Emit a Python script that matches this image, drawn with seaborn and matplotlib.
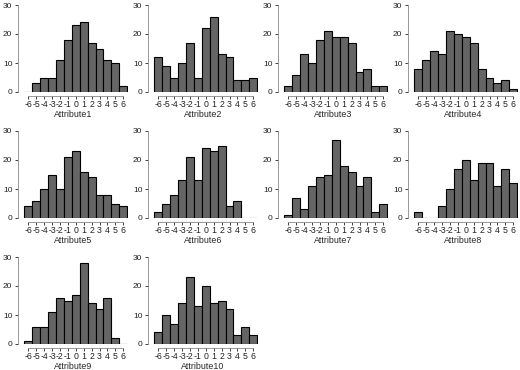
import numpy as np
import pandas as pd
import matplotlib
matplotlib.use("Agg")
import matplotlib.pyplot as plt
import seaborn as sns

# bin centres and counts
bins = list(range(-6, 7))
tick_labels = [str(b) for b in bins]
attr_names = ["Attribute1", "Attribute2", "Attribute3", "Attribute4", "Attribute5",
              "Attribute6", "Attribute7", "Attribute8", "Attribute9", "Attribute10"]

attribute1 = [0, 3, 5, 5, 11, 18, 23, 24, 17, 15, 11, 10, 2]
attribute2 = [12, 9, 5, 10, 17, 5, 22, 26, 13, 12, 4, 4, 5]
attribute3 = [2, 6, 13, 10, 18, 21, 19, 19, 17, 7, 8, 2, 2]
attribute4 = [8, 11, 14, 13, 21, 20, 19, 17, 8, 5, 3, 4, 1]
attribute5 = [4, 6, 10, 15, 10, 21, 23, 16, 14, 8, 8, 5, 4]
attribute6 = [2, 5, 8, 13, 21, 13, 24, 23, 25, 4, 6, 0, 0]
attribute7 = [1, 7, 3, 11, 14, 15, 27, 18, 16, 11, 14, 2, 5]
attribute8 = [2, 0, 0, 4, 10, 17, 20, 13, 19, 19, 11, 17, 12]
attribute9 = [1, 6, 6, 11, 16, 15, 17, 28, 14, 12, 16, 2, 0]
attribute10 = [4, 10, 7, 14, 23, 13, 20, 14, 15, 12, 3, 6, 3]

counts = [attribute1, attribute2, attribute3, attribute4, attribute5,
          attribute6, attribute7, attribute8, attribute9, attribute10]
y_ticks = [0, 10, 20, 30]

sns.set_style("ticks")
plt.rcParams["font.family"] = ["Liberation Sans", "DejaVu Sans"]

W, H = 520, 370
fig = plt.figure(figsize=(W / 100, H / 100), dpi=100)

row_bottom = [92, 218, 344]   # pixel row of y=0
ax_h = 87
ax_w = 110

for i, (name, cnt) in enumerate(zip(attr_names, counts)):
    r, c = divmod(i, 4)
    left = 18 + 130 * c
    ax = fig.add_axes([left / W, (H - row_bottom[r]) / H, ax_w / W, ax_h / H])
    df = pd.DataFrame({"value": bins, "count": cnt})
    sns.histplot(data=df, x="value", weights="count", discrete=True, ax=ax,
                 color="#656565", edgecolor="black", linewidth=0.8, alpha=1)
    ax.set_xlim(-7.3, 6.6)
    ax.set_ylim(0, 30)
    ax.set_xticks(bins)
    ax.set_xticklabels(tick_labels)
    ax.set_yticks(y_ticks)
    ax.set_ylabel("")
    ax.set_xlabel(name, fontsize=6.4, labelpad=0.5)
    ax.tick_params(axis="both", labelsize=6.3, length=2, width=0.6, pad=0.8,
                   colors="#222222")
    ax.tick_params(axis="y", labelsize=6, pad=2)
    for s in ["top", "right"]:
        ax.spines[s].set_visible(False)
    ax.spines["left"].set_bounds(0, 30)
    ax.spines["bottom"].set_bounds(-6, 6)
    ax.spines["bottom"].set_position(("outward", 3))
    ax.spines["left"].set_color("#888888")
    ax.spines["bottom"].set_color("#888888")
    ax.spines["left"].set_linewidth(0.6)
    ax.spines["bottom"].set_linewidth(0.6)

fig.savefig("out.png", dpi=100)
